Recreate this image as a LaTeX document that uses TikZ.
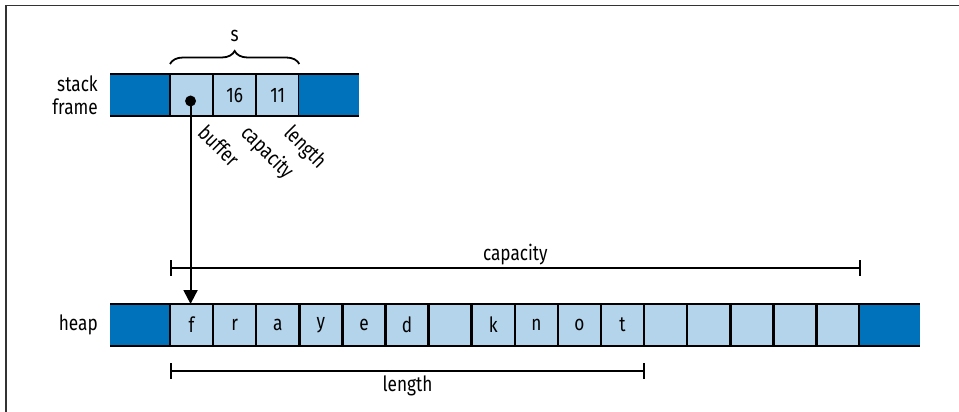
\documentclass[tikz,border=0pt]{standalone}
\usepackage{fontspec}
\setmainfont{Fira Sans}[FakeStretch=0.82]
\usetikzlibrary{arrows.meta,decorations.pathreplacing,calc}
\definecolor{darkb}{RGB}{0,114,188}
\definecolor{lightb}{RGB}{179,212,234}
\begin{document}
\begin{tikzpicture}[x=1pt,y=-1pt,
  every node/.style={font=\fontsize{21}{23}\selectfont},
  cellbox/.style={draw=black,line width=2.5pt,fill=lightb,minimum width=43.1pt,minimum height=42pt,inner sep=0pt,outer sep=0pt,anchor=west},
  endbox/.style={fill=darkb,minimum width=60pt,minimum height=42pt,inner sep=0pt,outer sep=0pt,anchor=west},
  rail/.style={line width=2.5pt,black},
  dim/.style={line width=2pt,black},
  slant/.style={rotate=-45,anchor=base west,inner sep=0pt}
]
\useasboundingbox (0,0) rectangle (959,412);
\draw[line width=1.2pt,black!80] (6,412) -- (6,5.5) -- (959,5.5);

% stack frame
\node[endbox] (sl) at (110,95) {};
\node[cellbox] (s1) at (170,95) {};
\node[cellbox] (s2) at (s1.east) {16};
\node[cellbox] (s3) at (s2.east) {11};
\node[endbox] (sr) at (s3.east) {};
\draw[rail] (sl.north west) -- (sr.north east);
\draw[rail] (sl.south west) -- (sr.south east);
\node[anchor=east,align=right,inner sep=0pt] (lab1) at (98,95) {stack\\frame};

% brace
\draw[line width=1.8pt,decorate,decoration={brace,amplitude=13pt,raise=10pt}] (s1.north west) -- node[above=31pt,inner sep=0pt] (sname) {s} (s3.north east);

% slanted labels
\node[slant] (lb) at ($(s1.south)+(5,18)$) {buffer};
\node[slant] (lc) at ($(s2.south)+(5,18)$) {capacity};
\node[slant] (ll) at ($(s3.south)+(5,18)$) {length};

% heap
\node[endbox] (hl) at (110,325) {};
\node[cellbox] (h1) at (170,325) {f};
\foreach \t [count=\i from 2, evaluate=\i as \j using int(\i-1)] in {r,a,y,e,d,{},k,n,o,t,{},{},{},{},{}}
  \node[cellbox] (h\i) at (h\j.east) {\t};
\node[endbox] (hr) at (h16.east) {};
\draw[rail] (hl.north west) -- (hr.north east);
\draw[rail] (hl.south west) -- (hr.south east);
\node[anchor=east,inner sep=0pt] (lab2) at (98,325) {heap};

% pointer
\coordinate (dotc) at ($(s1.center)+(-1,6)$);
\fill (dotc) circle (5.5pt);
\draw[line width=2pt,-{Triangle[width=14pt,length=14pt]}] (dotc) -- (dotc |- h1.north);

% capacity
\coordinate (c1) at ($(h1.west)+(1,-57)$);
\coordinate (c2) at ($(h16.east)+(0,-57)$);
\draw[dim] (c1) -- (c2);
\draw[dim] ($(c1)+(0,-8)$) -- ($(c1)+(0,8)$);
\draw[dim] ($(c2)+(0,-8)$) -- ($(c2)+(0,8)$);
\node[inner sep=0pt] (capl) at ($(c1)!0.5!(c2)+(0,-13)$) {capacity};

% length
\coordinate (l1) at ($(h1.west)+(1,46)$);
\coordinate (l2) at ($(h11.east)+(0,46)$);
\draw[dim] (l1) -- (l2);
\draw[dim] ($(l1)+(0,-8)$) -- ($(l1)+(0,8)$);
\draw[dim] ($(l2)+(0,-8)$) -- ($(l2)+(0,8)$);
\node[inner sep=0pt] (lenl) at ($(l1)!0.5!(l2)+(0,15)$) {length};
\end{tikzpicture}
\end{document}
